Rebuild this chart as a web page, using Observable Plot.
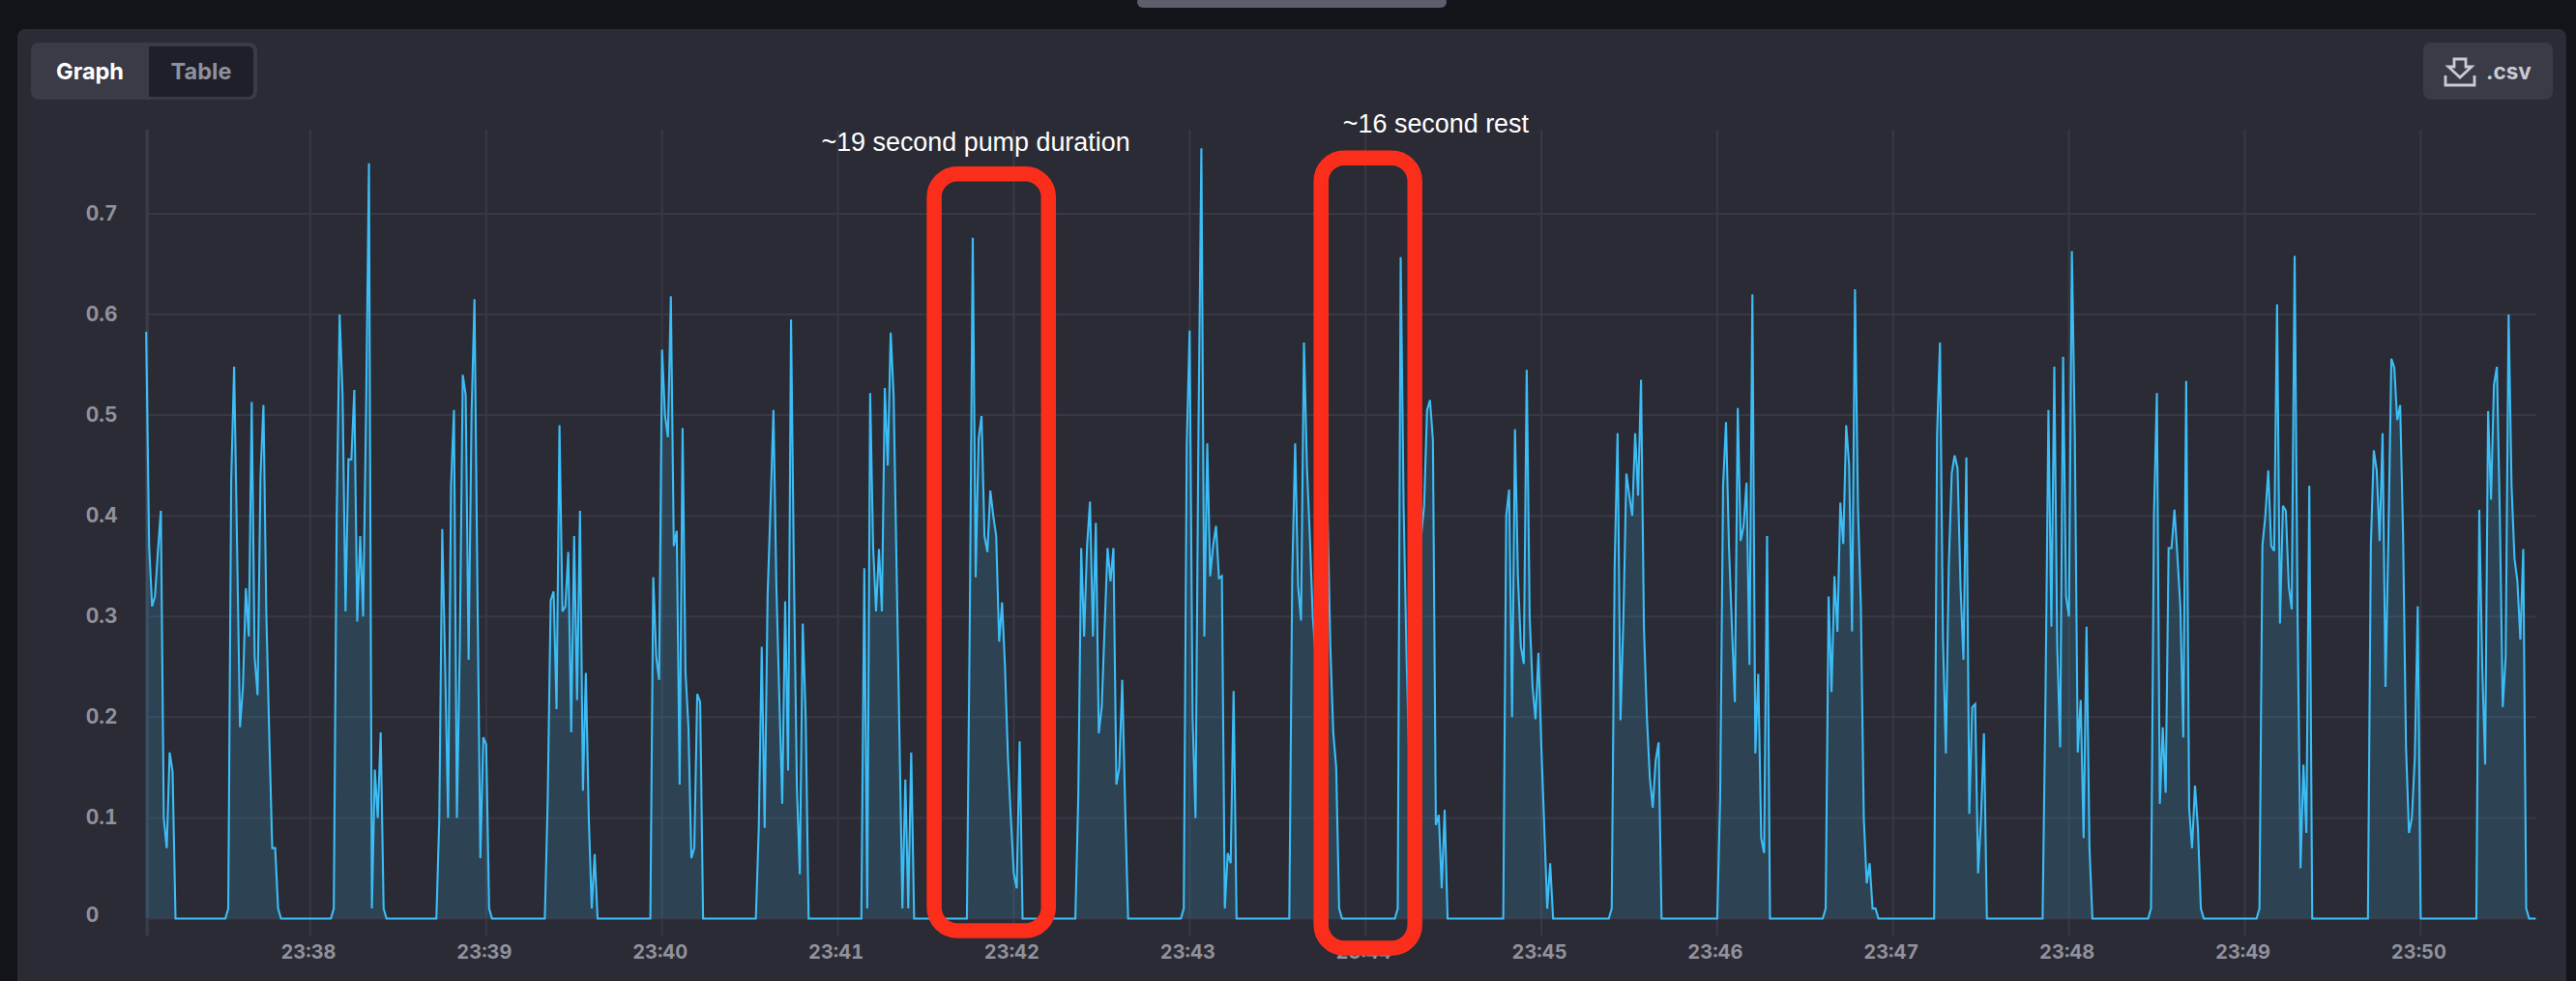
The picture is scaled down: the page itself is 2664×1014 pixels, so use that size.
<!DOCTYPE html>
<html>
<head>
<meta charset="utf-8">
<script src="https://cdn.jsdelivr.net/npm/d3@7"></script>
<script src="https://cdn.jsdelivr.net/npm/@observablehq/plot@0.6"></script>
<style>
  html,body{margin:0;padding:0;background:#131419;width:2664px;height:1014px;overflow:hidden;}
  #panel{position:absolute;left:18px;top:30px;width:2636px;height:1000px;background:#2a2b35;border-radius:8px;}
  #tab{position:absolute;left:1176px;top:-4px;width:320px;height:12px;background:#5c5e6b;border-radius:6px;}
  #chart{position:absolute;left:0;top:0;}
  .ui{position:absolute;font-family:Inter,sans-serif;font-weight:700;box-sizing:border-box;}
  #seg{left:32px;top:44px;width:234px;height:59px;background:#3a3b47;border-radius:8px;}
  #graph{left:32px;top:44px;width:122px;height:59px;line-height:59px;text-align:center;font-size:23.5px;color:#fff;}
  #table{left:154px;top:48px;width:108px;height:52px;line-height:52px;text-align:center;font-size:23.5px;color:#8f909c;background:#1e1f28;border-radius:0 5px 5px 0;}
  #csvBtn{left:2506px;top:44px;width:134px;height:59px;background:#3a3b47;border-radius:8px;}
  #csv{left:2571px;top:44px;height:59px;line-height:59px;font-size:22.5px;color:#c9cad2;}
  #icon{position:absolute;left:2527px;top:59px;}
</style>
</head>
<body>
<div id="panel"></div>
<div id="tab"></div>
<div class="ui" id="seg"></div>
<div class="ui" id="graph">Graph</div>
<div class="ui" id="table">Table</div>
<div class="ui" id="csvBtn"></div>
<div class="ui" id="csv">.csv</div>
<svg id="icon" width="34" height="32" viewBox="0 0 34 32" fill="none" stroke="#c9cad2" stroke-width="2.8">
  <path d="M11 2h12v8h6L17 21 5 10h6z"/>
  <path d="M2 19v10h30V19"/>
</svg>
<div id="chart"></div>
<script>
// Samples are one second apart; index 0 is 23:37:04.5. Between pump bursts the reading is 0.
const sampleCount = 816;
const pumpStarts = [0, 28, 64, 100, 137, 173, 209, 245, 281, 318, 354, 391, 427, 464, 500, 537, 573, 611, 648, 684, 721, 759, 796];
const pumpValues = [
  [.582,.37,.31,.32,.365,.405,.10,.07,.165,.146],
  [.01,.436,.548,.37,.19,.23,.328,.28,.513,.26,.222,.44,.51,.30,.18,.07,.07,.01],
  [.01,.40,.60,.52,.305,.456,.456,.525,.295,.38,.30,.50,.75,.01,.148,.10,.185,.01],
  [.10,.387,.25,.10,.43,.505,.10,.27,.54,.52,.257,.50,.615,.33,.06,.18,.173,.01],
  [.12,.316,.325,.208,.49,.305,.31,.364,.185,.38,.217,.405,.127,.244,.10,.01,.064],
  [.339,.26,.237,.565,.50,.478,.618,.37,.385,.133,.487,.245,.19,.06,.07,.223,.215],
  [.09,.27,.09,.32,.41,.505,.33,.22,.114,.315,.147,.595,.34,.13,.044,.293,.20],
  [.348,.01,.522,.37,.305,.367,.305,.527,.45,.582,.52,.35,.18,.01,.138,.01,.165],
  [.30,.676,.339,.477,.499,.38,.364,.425,.40,.38,.275,.314,.25,.16,.10,.045,.03,.176],
  [.12,.368,.28,.37,.414,.28,.393,.184,.21,.29,.368,.335,.368,.133,.15,.237,.11],
  [.01,.47,.584,.20,.10,.48,.765,.28,.472,.34,.37,.39,.338,.34,.01,.065,.055,.226],
  [.34,.472,.33,.296,.572,.45,.38,.30,.26,.38,.42,.44,.41,.27,.185,.15,.01],
  [.01,.657,.41,.26,.15,.30,.35,.36,.38,.41,.505,.515,.475,.093,.103,.03,.108],
  [.40,.426,.20,.486,.34,.27,.253,.545,.30,.23,.198,.264,.17,.09,.01,.055],
  [.01,.35,.482,.197,.30,.442,.42,.40,.482,.42,.535,.288,.20,.14,.11,.157,.175],
  [.12,.43,.493,.37,.29,.215,.507,.375,.39,.433,.252,.62,.164,.243,.08,.065,.38],
  [.01,.32,.225,.34,.285,.413,.372,.49,.45,.285,.625,.41,.31,.10,.035,.055,.01,.01],
  [.48,.572,.28,.164,.35,.442,.46,.447,.33,.257,.458,.104,.21,.213,.045,.10,.184],
  [.22,.505,.29,.548,.27,.17,.558,.32,.30,.663,.48,.165,.217,.08,.29,.07],
  [.01,.40,.522,.114,.19,.125,.368,.368,.406,.36,.31,.18,.534,.11,.07,.132,.09,.01],
  [.01,.37,.40,.445,.37,.365,.61,.293,.41,.405,.33,.307,.658,.30,.05,.153,.085,.43],
  [.37,.465,.445,.375,.482,.23,.38,.556,.547,.495,.51,.38,.17,.085,.10,.16,.31],
  [.406,.25,.153,.504,.416,.53,.548,.40,.21,.26,.60,.43,.358,.335,.277,.367,.01]
];
const xTickMinutes = [38,39,40,41,42,43,44,45,46,47,48,49,50];
const yTicks = [0.1,0.2,0.3,0.4,0.5,0.6,0.7];

const clock = (m, s = 0) => new Date(Date.UTC(2021, 0, 1, 23, m, s));
const firstSample = +clock(37, 4.5);
const series = new Array(sampleCount).fill(0);
pumpStarts.forEach((start, b) => pumpValues[b].forEach((v, k) => { series[start + k] = v; }));
const table = series.map((v, i) => ({t: new Date(firstSample + i * 1000), v}));
const xTicks = xTickMinutes.map(m => clock(m));

const gridColor = "#383945";
const tickColor = "#90919c";
const red = "#fb2e1c";
const ann = "Liberation Sans";
const yBottom = -0.0173, yTop = 0.783;

const pumpBox = [{x1: clock(41, 33.4), x2: clock(42, 12.3), y1: -0.0125, y2: 0.739}];
const restBox = [{x1: clock(43, 45.3), x2: clock(44, 17), y1: -0.0298, y2: 0.755}];
const notes = [
  {x: clock(41, 47.8), y: 0.771, label: "~19 second pump duration"},
  {x: clock(44, 24.2), y: 0.789, label: "~16 second rest"}
];

const plot = Plot.plot({
  width: 2664,
  height: 1014,
  marginLeft: 150.7,
  marginRight: 42,
  marginTop: 134,
  marginBottom: 65,
  style: {background: "transparent", fontFamily: "Inter, sans-serif", overflow: "visible"},
  x: {type: "utc", domain: [new Date(firstSample), new Date(firstSample + 815.3 * 1000)]},
  y: {domain: [0, yTop]},
  marks: [
    Plot.ruleY([0, ...yTicks], {stroke: gridColor, strokeWidth: 2}),
    Plot.ruleX(xTicks, {y1: yBottom, y2: yTop, stroke: gridColor, strokeWidth: 2}),
    Plot.ruleX([new Date(firstSample)], {y1: yBottom, y2: yTop, stroke: "#393b49", strokeWidth: 3.5, dx: 1}),
    Plot.areaY(table, {x: "t", y: "v", fill: "#3dbcf0", fillOpacity: 0.16}),
    Plot.lineY(table, {x: "t", y: "v", stroke: "#3dbdf5", strokeWidth: 2.1, strokeLinejoin: "miter", strokeMiterlimit: 3}),
    Plot.axisY(yTicks, {anchor: "left", label: null, tickSize: 0, tickPadding: 62.5, textAnchor: "start",
      tickFormat: d => d.toFixed(1), fill: tickColor, fontSize: 21, fontWeight: 700}),
    Plot.axisY([0], {anchor: "left", label: null, tickSize: 0, tickPadding: 62.5, textAnchor: "start", dy: -3,
      tickFormat: () => "0", fill: tickColor, fontSize: 21, fontWeight: 700}),
    Plot.axisX(xTicks, {anchor: "bottom", label: null, tickSize: 0, tickPadding: 27, dx: -2,
      tickFormat: d3.utcFormat("%H:%M"), fill: tickColor, fontSize: 20, fontWeight: 700}),
    Plot.rect(pumpBox, {x1: "x1", x2: "x2", y1: "y1", y2: "y2", fill: "none", stroke: red, strokeWidth: 15.5, rx: 24}),
    Plot.rect(restBox, {x1: "x1", x2: "x2", y1: "y1", y2: "y2", fill: "none", stroke: red, strokeWidth: 15.5, rx: 24}),
    Plot.text(notes, {x: "x", y: "y", text: "label", fill: "#ffffff", fontSize: 26.9, fontFamily: ann})
  ]
});
document.getElementById("chart").appendChild(plot);
</script>
</body>
</html>
